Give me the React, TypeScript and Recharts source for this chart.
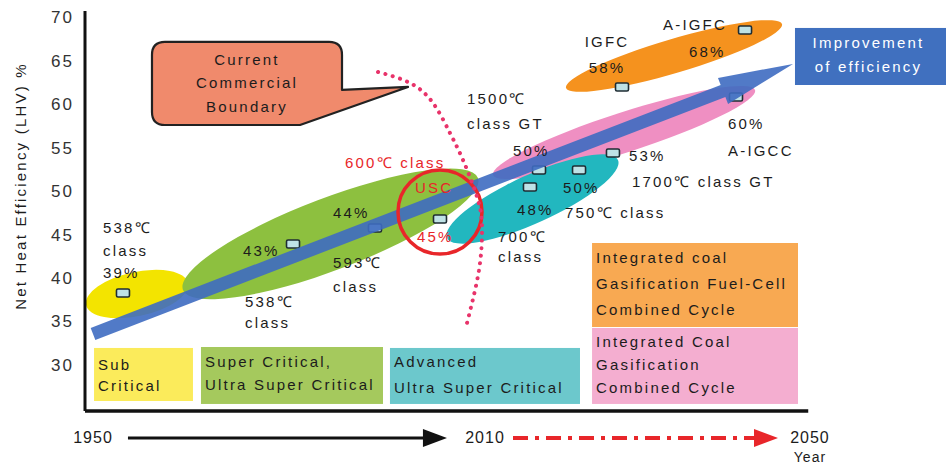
import React from 'react';
import { ComposedChart, XAxis, YAxis, Scatter, Line, ReferenceLine, ReferenceArea, ReferenceDot } from 'recharts';

const W = 946;
const H = 465;
const FONT = '"Liberation Sans", Arial, sans-serif';
const INK = '#1c1c1c';
const RED = '#e8262a';

// efficiency axis (%, LHV)
const yTicks = [30, 35, 40, 45, 50, 55, 60, 65, 70];
const yDomain = [24.7, 70.7];

// timeline under the chart
const timelineYears = ['1950', '2010', '2050'];
const timelineX = [0.93, 46.46, 84.2];

// plant markers: position along the roadmap and net efficiency
const plants = ['SC 538℃', 'SC 538℃ (2)', 'USC 593℃', 'USC 600℃', 'A-USC 700℃', 'IGCC 1500℃ GT', 'A-USC 750℃', 'IGCC 1700℃ GT', 'IGFC', 'A-IGCC', 'A-IGFC'];
const plantX = [4.41, 24.16, 33.68, 41.23, 51.68, 52.73, 57.38, 61.32, 62.37, 75.61, 76.66];
const plantEff = [38.27, 43.91, 45.75, 46.78, 50.46, 52.42, 52.42, 54.37, 61.96, 60.81, 68.52];

// technology bands, ends of the long axis of each ellipse
const bands = ['Sub Critical', 'Super Critical', 'IGCC', 'A-USC', 'IGFC'];
const bandStart = [[0.12, 36.89], [11.38, 38.62], [47.39, 51.84], [42.04, 44.6], [55.87, 61.85]];
const bandEnd = [[11.96, 39.42], [45.64, 51.5], [77.82, 61.62], [61.9, 53.57], [80.95, 69.2]];
const bandLook: Record<string, { fill: string; ry: number }> = {
  'Sub Critical': { fill: '#f3e400', ry: 22 },
  'Super Critical': { fill: '#8dc03f', ry: 36 },
  IGCC: { fill: '#ef8fc2', ry: 20 },
  'A-USC': { fill: '#22b7bf', ry: 24 },
  IGFC: { fill: '#f5921e', ry: 17 },
};

// improvement trend
const trendStart = { x: 0.93, y: 33.56 };
const trendEnd = { x: 82.23, y: 64.61 };

// current commercial boundary (dotted curve)
const boundaryX = [34.03, 37.75, 40.42, 42.39, 43.9, 45.64, 46.11, 45.76, 44.37];
const boundaryY = [63.69, 62.42, 60.12, 56.67, 53.57, 48.97, 45.52, 40.92, 34.82];

// legend boxes
const legendBoxes = [
  { lines: ['Sub', 'Critical'], x1: 1.05, x2: 12.54, y1: 25.85, y2: 31.95, fill: '#fbeb5b', first: 22, gap: 21 },
  { lines: ['Super Critical,', 'Ultra Super Critical'], x1: 13.47, x2: 34.61, y1: 25.51, y2: 32.06, fill: '#a5c95d', first: 20, gap: 23 },
  { lines: ['Advanced', 'Ultra Super Critical'], x1: 35.42, x2: 57.49, y1: 25.51, y2: 31.95, fill: '#6cc8cc', first: 19, gap: 26 },
  { lines: ['Integrated coal', 'Gasification Fuel-Cell', 'Combined Cycle'], x1: 58.89, x2: 82.81, y1: 34.36, y2: 44.02, fill: '#f8a952', first: 20, gap: 26 },
  { lines: ['Integrated Coal', 'Gasification', 'Combined Cycle'], x1: 58.89, x2: 82.81, y1: 25.51, y2: 34.25, fill: '#f4aed0', first: 19, gap: 23 },
];

const notes = [
  { lines: ['538℃', 'class', '39%'], x: 2.09, y: 45.17, gap: 22.5 },
  { lines: ['43%'], x: 18.35, y: 42.53, gap: 0 },
  { lines: ['538℃', 'class'], x: 18.58, y: 36.66, gap: 21 },
  { lines: ['44%'], x: 28.8, y: 46.9, gap: 0 },
  { lines: ['593℃', 'class'], x: 28.8, y: 41.15, gap: 24 },
  { lines: ['1500℃', 'class GT'], x: 44.37, y: 60.0, gap: 25 },
  { lines: ['50%'], x: 49.71, y: 54.03, gap: 0 },
  { lines: ['48%'], x: 50.17, y: 47.24, gap: 0 },
  { lines: ['700℃', 'class'], x: 47.97, y: 44.14, gap: 20 },
  { lines: ['50%'], x: 55.52, y: 49.77, gap: 0 },
  { lines: ['750℃ class'], x: 55.75, y: 46.9, gap: 0 },
  { lines: ['IGFC', '58%'], x: 60.63, y: 66.56, gap: 26, anchor: 'middle' },
  { lines: ['A-IGFC'], x: 67.13, y: 68.52, gap: 0 },
  { lines: ['68%'], x: 70.15, y: 65.41, gap: 0 },
  { lines: ['53%'], x: 63.18, y: 53.45, gap: 0 },
  { lines: ['1700℃ class GT'], x: 63.53, y: 50.46, gap: 0 },
  { lines: ['60%', 'A-IGCC'], x: 74.68, y: 57.13, gap: 27 },
];

const redNotes = [
  { lines: ['600℃ class'], x: 30.2, y: 52.65 },
  { lines: ['USC'], x: 38.33, y: 49.77 },
  { lines: ['45%'], x: 38.56, y: 44.14 },
];

const markers = plants.map((name, i) => ({ name, x: plantX[i], y: plantEff[i] }));
const boundary = boundaryX.map((x, i) => ({ x, y: boundaryY[i] }));

const txt = { fontFamily: FONT, fontSize: 15, letterSpacing: 2.2 };

const ellipseShape = (fill: string, ry: number) => (p: any) => {
  const cx = (p.x1 + p.x2) / 2;
  const cy = (p.y1 + p.y2) / 2;
  const rx = Math.hypot(p.x2 - p.x1, p.y2 - p.y1) / 2;
  const ang = (Math.atan2(p.y2 - p.y1, p.x2 - p.x1) * 180) / Math.PI;
  return <ellipse cx={cx} cy={cy} rx={rx} ry={ry} fill={fill} transform={`rotate(${ang} ${cx} ${cy})`} />;
};

const trendArrow = (p: any) => {
  const dx = p.x2 - p.x1;
  const dy = p.y2 - p.y1;
  const len = Math.hypot(dx, dy);
  const ux = dx / len, uy = dy / len;
  const nx = -uy, ny = ux;
  const headLen = 75, shaft = 6.5, head = 14;
  const bx = p.x2 - ux * headLen, by = p.y2 - uy * headLen;
  const pts = [
    [p.x1 + nx * shaft, p.y1 + ny * shaft],
    [bx + nx * shaft, by + ny * shaft],
    [bx + nx * head, by + ny * head],
    [p.x2, p.y2],
    [bx - nx * head, by - ny * head],
    [bx - nx * shaft, by - ny * shaft],
    [p.x1 - nx * shaft, p.y1 - ny * shaft],
  ];
  return <polygon points={pts.map((q) => q.join(',')).join(' ')} fill="#3e6cc1" opacity={0.9} />;
};

const timeArrow = (color: string, width: number, dash?: string) => (p: any) => {
  const head = 24, half = 9;
  return (
    <g>
      <line x1={p.x1} y1={p.y1} x2={p.x2 - head + 2} y2={p.y2} stroke={color} strokeWidth={width} strokeDasharray={dash} />
      <polygon points={`${p.x2 - head},${p.y2 - half} ${p.x2},${p.y2} ${p.x2 - head},${p.y2 + half}`} fill={color} />
    </g>
  );
};

const boxShape = (b: typeof legendBoxes[number]) => (p: any) => (
  <g>
    <rect x={p.x} y={p.y} width={p.width} height={p.height} fill={b.fill} />
    <text {...txt} fill={INK} x={p.x + 4} y={p.y + b.first}>
      {b.lines.map((l, i) => (
        <tspan key={i} x={p.x + 4} dy={i === 0 ? 0 : b.gap}>{l}</tspan>
      ))}
    </text>
  </g>
);

const calloutShape = (p: any) => {
  const { x, y, width: w, height: h } = p;
  const r = 13, R = x + w, B = y + h;
  const d = `M${x + r},${y} H${R - r} Q${R},${y} ${R},${y + r} V${y + 48} L${R + 66},${y + 45} L${R - 42},${B} H${x + r} Q${x},${B} ${x},${B - r} V${y + r} Q${x},${y} ${x + r},${y} Z`;
  const cx = x + w / 2;
  return (
    <g>
      <path d={d} fill="#f08a6c" stroke="#222" strokeWidth={2.2} strokeLinejoin="round" />
      <text {...txt} fill={INK} textAnchor="middle" x={cx} y={y + 23}>
        <tspan x={cx}>Current</tspan>
        <tspan x={cx} dy={23.5}>Commercial</tspan>
        <tspan x={cx} dy={23.5}>Boundary</tspan>
      </text>
    </g>
  );
};

const improvementShape = (p: any) => {
  const cx = p.x + p.width / 2 - 2;
  return (
    <g>
      <rect x={p.x} y={p.y} width={p.width} height={p.height} fill="#4070bf" />
      <text {...txt} fill="#fff" textAnchor="middle" x={cx} y={p.y + 20}>
        <tspan x={cx}>Improvement</tspan>
        <tspan x={cx} dy={24}>of efficiency</tspan>
      </text>
    </g>
  );
};

const noteShape = (lines: string[], gap: number, color: string, anchor = 'start') => (p: any) => (
  <text {...txt} fill={color} x={p.cx} y={p.cy} textAnchor={anchor}>
    {lines.map((l, i) => (
      <tspan key={i} x={p.cx} dy={i === 0 ? 0 : gap}>{l}</tspan>
    ))}
  </text>
);

const markerShape = (p: any) => (
  <rect x={p.cx - 6.5} y={p.cy - 4} width={13} height={8} rx={1.5} fill="#bfe2e6" stroke="#1f2d33" strokeWidth={1.6} />
);

const YearTick = (p: any) => {
  const i = timelineX.indexOf(p.payload.value);
  const last = i === timelineYears.length - 1;
  return (
    <text fontFamily={FONT} fontSize={16} letterSpacing={1} fill={INK} x={p.x} y={p.y} dy={24} textAnchor="middle">
      <tspan x={p.x}>{timelineYears[i]}</tspan>
      {last && <tspan x={p.x} dy={19} fontSize={14}>Year</tspan>}
    </text>
  );
};

const yLabel = (p: any) => {
  const vb = p.viewBox || { x: 0, y: 11 };
  const cx = vb.x + 20;
  const cy = vb.y + 175;
  return (
    <text fontFamily={FONT} fontSize={15} letterSpacing={2.2} fill={INK} x={cx} y={cy} textAnchor="middle" dominantBaseline="central" transform={`rotate(-90 ${cx} ${cy})`}>
      Net Heat Efficiency (LHV) %
    </text>
  );
};

export default function App() {
  return (
    <div style={{ width: W, height: H }}>
      <style>{'body{margin:0}'}</style>
      <ComposedChart width={W} height={H} margin={{ top: 11, right: 0, bottom: 0, left: 0 }}>
        <XAxis
          type="number"
          dataKey="x"
          domain={[0, 100]}
          allowDataOverflow
          ticks={timelineX}
          interval={0}
          axisLine={false}
          tickLine={false}
          height={54}
          tick={<YearTick />}
        />
        <YAxis
          type="number"
          dataKey="y"
          domain={yDomain}
          allowDataOverflow
          ticks={yTicks}
          interval={0}
          width={85}
          axisLine={{ stroke: '#111', strokeWidth: 3 }}
          tickLine={false}
          tickSize={6}
          tickMargin={5}
          tick={{ fontSize: 17, fill: '#333', fontFamily: FONT, letterSpacing: 2 }}
          label={{ content: yLabel }}
        />

        {bands.map((b, i) => (
          <ReferenceLine
            key={b}
            zIndex={10 + i}
            ifOverflow="visible"
            segment={[{ x: bandStart[i][0], y: bandStart[i][1] }, { x: bandEnd[i][0], y: bandEnd[i][1] }]}
            shape={ellipseShape(bandLook[b].fill, bandLook[b].ry)}
          />
        ))}

        {legendBoxes.map((b, i) => (
          <ReferenceArea key={i} zIndex={20} ifOverflow="visible" x1={b.x1} x2={b.x2} y1={b.y1} y2={b.y2} shape={boxShape(b)} />
        ))}

        <Scatter zIndex={30} data={markers} dataKey="y" shape={markerShape} isAnimationActive={false} />

        <ReferenceLine zIndex={40} ifOverflow="visible" segment={[trendStart, trendEnd]} shape={trendArrow} />

        <ReferenceArea zIndex={45} ifOverflow="visible" x1={82.46} x2={100} y1={62.19} y2={68.75} shape={improvementShape} />

        <ReferenceDot
          zIndex={50}
          x={41.23}
          y={47.59}
          r={42}
          ifOverflow="visible"
          shape={(p: any) => <circle cx={p.cx} cy={p.cy} r={42} fill="none" stroke={RED} strokeWidth={3.5} />}
        />

        <Line
          zIndex={55}
          data={boundary}
          dataKey="y"
          type="natural"
          stroke="#e8336a"
          strokeWidth={4}
          strokeDasharray="0.1 7.5"
          strokeLinecap="round"
          dot={false}
          activeDot={false}
          isAnimationActive={false}
        />

        {notes.map((n, i) => (
          <ReferenceDot key={`n${i}`} zIndex={60} ifOverflow="visible" x={n.x} y={n.y} r={1} shape={noteShape(n.lines, n.gap, INK, n.anchor)} />
        ))}
        {redNotes.map((n, i) => (
          <ReferenceDot key={`r${i}`} zIndex={60} ifOverflow="visible" x={n.x} y={n.y} r={1} shape={noteShape(n.lines, 0, RED)} />
        ))}

        <ReferenceArea zIndex={70} ifOverflow="visible" x1={7.78} x2={29.85} y1={57.59} y2={67.14} shape={calloutShape} />

        <ReferenceLine zIndex={80} ifOverflow="visible" segment={[{ x: 0, y: 24.7 }, { x: 84.0, y: 24.7 }]} stroke="#111" strokeWidth={3.5} />
        <ReferenceLine zIndex={80} ifOverflow="visible" segment={[{ x: 4.99, y: 21.6 }, { x: 42.04, y: 21.6 }]} shape={timeArrow('#111', 3)} />
        <ReferenceLine zIndex={80} ifOverflow="visible" segment={[{ x: 49.71, y: 21.6 }, { x: 80.49, y: 21.6 }]} shape={timeArrow(RED, 4, '15 7 4 7')} />
      </ComposedChart>
    </div>
  );
}
